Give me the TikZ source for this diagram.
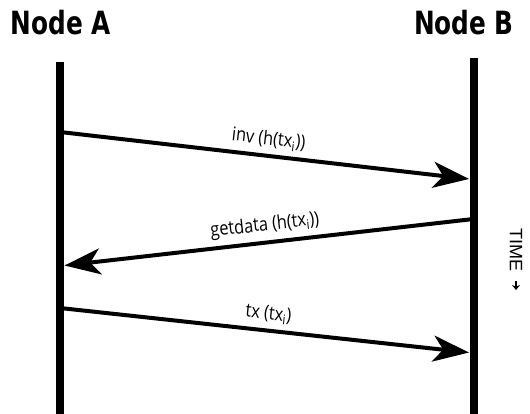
\documentclass[tikz,border=0pt]{standalone}
\usepackage{fontspec}
\setmainfont{Liberation Sans}
\newfontfamily\headfont{DejaVu Sans Condensed Bold}[FakeStretch=0.86]
\newfontfamily\msgfont{Open Sans}[FakeStretch=0.86]
\usetikzlibrary{arrows.meta}
\tikzset{
  lifeline/.style={line width=8pt},
  msg/.style={line width=4pt,-{Stealth[length=36pt,width=26pt,inset=10pt]},shorten >=4.5pt},
  msglabel/.style={midway,sloped,above=2pt,font=\msgfont\fontsize{19}{21}\selectfont},
  head/.style={font=\headfont\fontsize{32}{34}\selectfont}
}
\newcommand{\sub}[1]{\textsubscript{#1}}
\begin{document}
\begin{tikzpicture}[x=1pt,y=-1pt]
		\useasboundingbox (0,0) rectangle (530,414);
		% the two peers
		\node [head] (A) at (61,23) {Node A};
		\node [head] (B) at (464,23) {Node B};
		\coordinate (a top) at (60,62);
		\coordinate (a bot) at (60,414);
		\coordinate (b top) at (473.5,58);
		\coordinate (b bot) at (473.5,414);
		% message end points on the lifelines
		\coordinate (a1) at (60,132);
		\coordinate (b1) at (473.5,179.5);
		\coordinate (b2) at (473.5,219);
		\coordinate (a2) at (60,266);
		\coordinate (a3) at (60,308);
		\coordinate (b3) at (473.5,353);
		\draw [msg] (a1) -- (b1) node [msglabel] {inv (h(tx\sub{i}))};
		\draw [msg] (b2) -- (a2) node [msglabel] {getdata (h(tx\sub{i}))};
		\draw [msg] (a3) -- (b3) node [msglabel] {tx (tx\sub{i})};
		\draw [lifeline] (a top) -- (a bot);
		\draw [lifeline] (b top) -- (b bot);
		% time runs downwards
		\node [rotate=-90,font=\fontsize{18}{20}\selectfont] (time) at (516,250) {TIME};
		\draw [line width=1.8pt,-{Stealth[length=5pt,width=8pt]}] ([yshift=-6pt]time.east) -- ++(0,9);
\end{tikzpicture}
\end{document}
